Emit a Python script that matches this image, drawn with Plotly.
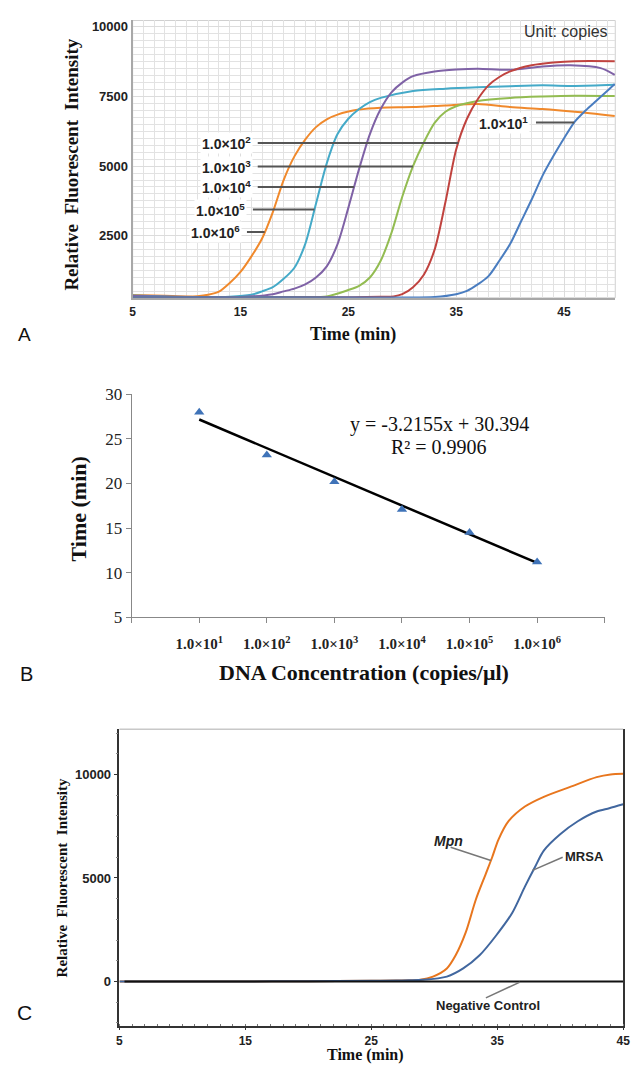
import plotly.graph_objects as go

# ---------------- Panel A data ----------------
a_labels = ["1.0×10<sup>6</sup>", "1.0×10<sup>5</sup>", "1.0×10<sup>4</sup>",
            "1.0×10<sup>3</sup>", "1.0×10<sup>2</sup>", "1.0×10<sup>1</sup>"]
a_colors = ["#F0892C", "#45AAC8", "#7F62A6", "#93BC52", "#C0433F", "#4A7DC0"]

t_e6 = [5, 8, 10, 11, 12, 13, 14, 15, 16, 17, 18, 19, 20, 21, 22, 23, 24, 26, 28, 31, 34, 37, 40, 43, 46, 49.7]
f_e6 = [370, 340, 320, 330, 380, 490, 800, 1200, 1750, 2400, 3350, 4500, 5350, 5950, 6400, 6680, 6850, 7030, 7100, 7120, 7180, 7230, 7120, 7050, 6950, 6800]

t_e5 = [5, 10, 14, 16, 17, 18, 19, 20, 21, 22, 23, 24, 25, 26, 27, 28, 31, 34, 37, 40, 43, 46, 49.7]
f_e5 = [350, 300, 310, 380, 500, 650, 950, 1350, 2200, 3650, 5100, 6150, 6700, 7050, 7300, 7450, 7700, 7780, 7830, 7870, 7900, 7880, 7920]

t_e4 = [5, 15, 18, 19, 20, 21, 22, 23, 24, 25, 26, 27, 28, 29, 30, 31, 33, 35, 37, 40, 43, 45.6, 48.4, 49.7]
f_e4 = [330, 300, 400, 500, 600, 750, 1000, 1400, 2200, 3500, 4900, 6150, 7050, 7650, 8000, 8230, 8400, 8470, 8500, 8460, 8580, 8620, 8520, 8280]

t_e3 = [5, 20, 23, 25, 26, 27, 28, 29, 30, 31, 32, 33, 34, 35, 37, 40, 43, 46, 49.7]
f_e3 = [300, 300, 320, 550, 700, 1000, 1600, 2600, 3900, 5000, 5850, 6550, 6950, 7150, 7340, 7450, 7500, 7530, 7520]

t_e2 = [5, 25, 28, 29.2, 30, 31, 32, 33, 34, 35, 36, 37, 38, 39, 40, 42, 44, 46, 49.7]
f_e2 = [290, 290, 310, 320, 400, 650, 1100, 2000, 3700, 5600, 6700, 7400, 7900, 8200, 8400, 8620, 8720, 8770, 8770]

t_e1 = [5, 30, 33, 35, 36, 37, 38, 39, 40, 41, 42, 43, 44, 45, 46, 47, 48, 49, 49.7]
f_e1 = [290, 280, 300, 400, 520, 750, 1050, 1600, 2200, 3000, 3800, 4650, 5350, 6000, 6600, 7000, 7350, 7700, 7950]

a_times = [t_e6, t_e5, t_e4, t_e3, t_e2, t_e1]
a_fluor = [f_e6, f_e5, f_e4, f_e3, f_e2, f_e1]
a_ticks_x = [5, 15, 25, 35, 45]
a_ticks_y = [2500, 5000, 7500, 10000]

# ---------------- Panel B data ----------------
b_categories = ["1.0×10<sup>1</sup>", "1.0×10<sup>2</sup>", "1.0×10<sup>3</sup>",
                "1.0×10<sup>4</sup>", "1.0×10<sup>5</sup>", "1.0×10<sup>6</sup>"]
b_time = [28.0, 23.2, 20.2, 17.1, 14.5, 11.2]
b_slope = -3.2155
b_intercept = 30.394
b_r2 = 0.9906

# ---------------- Panel C data ----------------
c_mpn_t = [5, 15, 20, 25, 27, 28, 28.9, 29.9, 31.0, 31.7, 32.5, 33.3, 34.1, 34.6, 35.1, 35.9, 37.2, 38.7, 40.8, 42.9, 44.0, 45.0]
c_mpn_f = [0, 5, 15, 35, 50, 60, 80, 237, 630, 1265, 2370, 3950, 5210, 6000, 6850, 7740, 8450, 8920, 9400, 9870, 10000, 10030]
c_mrsa_t = [5, 15, 20, 25, 27, 28, 29.1, 31.0, 32.3, 33.6, 34.9, 36.2, 37.2, 38.0, 38.7, 40.0, 41.4, 42.9, 43.9, 45.0]
c_mrsa_f = [0, 5, 15, 35, 50, 60, 80, 237, 630, 1265, 2210, 3320, 4580, 5530, 6320, 7110, 7740, 8210, 8370, 8560]
c_neg_t = [5.4, 45.0]
c_neg_f = [0, 0]
c_ticks_x = [5, 15, 25, 35, 45]
c_ticks_y = [0, 5000, 10000]

SERIF = "Liberation Serif"
SANS = "Liberation Sans"

fig = go.Figure()

# Panel A curves
for t, f, col in zip(a_times, a_fluor, a_colors):
    fig.add_trace(go.Scatter(x=t, y=f, mode="lines", line=dict(color=col, width=2, shape="spline", smoothing=0.8),
                             xaxis="x", yaxis="y", hoverinfo="skip"))

# Panel B
cat_pos = list(range(1, len(b_categories) + 1))
fig.add_trace(go.Scatter(x=cat_pos, y=[b_slope * p + b_intercept for p in cat_pos], mode="lines",
                         line=dict(color="black", width=2.5), xaxis="x2", yaxis="y2"))
fig.add_trace(go.Scatter(x=cat_pos, y=b_time, mode="markers",
                         marker=dict(symbol="triangle-up", size=9, color="#3F73B8"), xaxis="x2", yaxis="y2"))

# Panel C
fig.add_trace(go.Scatter(x=c_mpn_t, y=c_mpn_f, mode="lines", line=dict(color="#E8761E", width=2, shape="spline", smoothing=0.8),
                         xaxis="x3", yaxis="y3"))
fig.add_trace(go.Scatter(x=c_mrsa_t, y=c_mrsa_f, mode="lines", line=dict(color="#41679F", width=2, shape="spline", smoothing=0.8),
                         xaxis="x3", yaxis="y3"))
fig.add_trace(go.Scatter(x=c_neg_t, y=c_neg_f, mode="lines", line=dict(color="#111111", width=2),
                         xaxis="x3", yaxis="y3"))

H = 1073.0
W = 638.0
def py(v):
    return 1 - v / H
def px(v):
    return v / W

annotations = []
shapes = []

def ann(x, y, text, font, xref="paper", yref="paper", **kw):
    d = dict(x=x, y=y, xref=xref, yref=yref, text=text, showarrow=False, font=font,
             xanchor="center", yanchor="middle")
    d.update(kw)
    annotations.append(d)

# Panel A leader labels (line ends where each curve crosses the label level)
label_y = [2629, 3438, 4246, 4984, 5828, 6566]
label_x = [12.64, 13.19, 13.69, 13.69, 13.69, 39.4]
line_start = [15.6, 16.15, 16.6, 16.6, 16.6, 42.4]
for i, (lab, t, f) in enumerate(zip(a_labels, a_times, a_fluor)):
    yv = label_y[i]
    xe = t[-1]
    for k in range(len(f) - 1):
        if (f[k] - yv) * (f[k + 1] - yv) <= 0 and f[k + 1] != f[k]:
            xe = t[k] + (yv - f[k]) * (t[k + 1] - t[k]) / (f[k + 1] - f[k])
            break
    shapes.append(dict(type="line", xref="x", yref="y", x0=line_start[i], x1=xe, y0=yv, y1=yv,
                       line=dict(color="#555555", width=2)))
    ann(label_x[i], yv, lab, dict(family=SANS, size=14, color="#222", weight="bold"),
        xref="x", yref="y", bgcolor="white", borderpad=1)

ann(px(70), py(158.5), "Relative\u00a0 Fluorescent\u00a0 Intensity",
    dict(family=SERIF, size=19, color="#111", weight="bold"), textangle=-90)
ann(px(356), py(331), "Time (min)", dict(family=SERIF, size=18, color="#111", weight="bold"))
ann(px(572), py(22.7), "Unit: copies", dict(family=SANS, size=16, color="#333"))
ann(px(21.7), py(331.7), "A", dict(family=SANS, size=19, color="#111"))
# Panel B
ann(px(443), py(423.3), f"y = {b_slope}x + {b_intercept}", dict(family=SERIF, size=20, color="#111"))
ann(px(443), py(446), f"R² = {b_r2}", dict(family=SERIF, size=20, color="#111"))
ann(px(76.7), py(509), "Time (min)", dict(family=SERIF, size=22, color="#111", weight="bold"), textangle=-90)
ann(px(366.5), py(675), "DNA Concentration (copies/μl)", dict(family=SERIF, size=22, color="#111", weight="bold"))
ann(px(24), py(677), "B", dict(family=SANS, size=20, color="#111"))
# Panel C
ann(px(60), py(885), "Relative\u00a0 Fluorescent\u00a0 Intensity",
    dict(family=SERIF, size=15, color="#111", weight="bold"), textangle=-90)
ann(px(368.7), py(1065), "Time (min)", dict(family=SERIF, size=16, color="#111", weight="bold"))
ann(px(21.7), py(1021.7), "C", dict(family=SANS, size=21, color="#111"))
ann(31.1, 6790, "<i>Mpn</i>", dict(family=SANS, size=14, color="#222", weight="bold"), xref="x3", yref="y3")
ann(41.9, 6030, "MRSA", dict(family=SANS, size=13, color="#222", weight="bold"), xref="x3", yref="y3")
ann(34.3, -1137, "Negative Control", dict(family=SANS, size=13, color="#222", weight="bold"), xref="x3", yref="y3")

shapes += [
    dict(type="rect", xref="x domain", yref="y domain", x0=0, x1=1, y0=0, y1=1,
         line=dict(color="#d0d0d0", width=1), layer="below"),
    dict(type="line", xref="x3 domain", yref="y3 domain", x0=0, x1=1, y0=1, y1=1,
         line=dict(color="#c8c8c8", width=1.5)),
    dict(type="line", xref="x3", yref="y3", x0=31.3, x1=34.5, y0=6480, y1=5840, line=dict(color="#777", width=1.5)),
    dict(type="line", xref="x3", yref="y3", x0=40.2, x1=37.8, y0=6000, y1=5370, line=dict(color="#777", width=1.5)),
    dict(type="line", xref="x3", yref="y3", x0=34.1, x1=36.8, y0=-790, y1=-30, line=dict(color="#777", width=1.5)),
]

tickA = dict(family=SANS, size=13, color="#222", weight="bold")
tickAx = dict(family=SANS, size=12, color="#222", weight="bold")

fig.update_layout(
    width=638, height=1073, margin=dict(l=0, r=0, t=0, b=0),
    paper_bgcolor="white", plot_bgcolor="white", showlegend=False,
    annotations=annotations, shapes=shapes,
    xaxis=dict(domain=[px(131.7), px(622)], anchor="y", range=[5, 49.75], tickmode="array", tickvals=a_ticks_x,
               tickformat="d", ticks="", showgrid=True, gridcolor="#dcdcdc", gridwidth=1,
               minor=dict(dtick=1, tick0=5, showgrid=True, gridcolor="#e2e2e2", gridwidth=1),
               showline=True, linecolor="#a8a8a8", linewidth=2, zeroline=False, tickfont=tickAx,
               ticklabelstandoff=2),
    yaxis=dict(domain=[py(294), py(11.7)], anchor="x", range=[270, 10230], tickmode="array", tickvals=a_ticks_y,
               tickformat="d", ticks="", showgrid=True, gridcolor="#dcdcdc", gridwidth=1,
               minor=dict(dtick=250, tick0=0, showgrid=True, gridcolor="#e2e2e2", gridwidth=1),
               showline=True, linecolor="#a8a8a8", linewidth=2, zeroline=False, tickfont=tickA),
    xaxis2=dict(domain=[px(130.7), px(611.3)], anchor="y2", range=[0, 7], tickmode="array",
                tickvals=cat_pos, ticktext=b_categories,
                ticks="outside", ticklen=5, tickcolor="#888",
                minor=dict(dtick=1, tick0=0, ticks="outside", ticklen=5, tickcolor="#888"),
                showline=True, linecolor="#888", linewidth=1.2,
                showgrid=False, zeroline=False,
                tickfont=dict(family=SERIF, size=15, color="#222", weight="bold"), ticklabelstandoff=8),
    yaxis2=dict(domain=[py(619.3), py(392.3)], anchor="x2", range=[5, 30], tickmode="array",
                tickvals=[5, 10, 15, 20, 25, 30], ticks="outside", ticklen=5, tickcolor="#888",
                showline=True, linecolor="#888", linewidth=1.2, showgrid=False, zeroline=False,
                tickfont=dict(family=SERIF, size=17, color="#222")),
    xaxis3=dict(domain=[px(118.3), px(630)], anchor="y3", range=[5, 45], tickmode="array", tickvals=c_ticks_x,
                tickformat="d", ticks="outside", ticklen=3, tickcolor="#333",
                minor=dict(dtick=1, tick0=5, ticks="inside", ticklen=2, tickcolor="#777"),
                showline=True, linecolor="#333", linewidth=1.5, showgrid=False, zeroline=False,
                tickfont=tickAx, ticklabelstandoff=0),
    yaxis3=dict(domain=[py(1035), py(733.3)], anchor="x3", range=[-2133, 12180], tickmode="array",
                tickvals=c_ticks_y, tickformat="d", ticks="outside", ticklen=4, tickcolor="#333",
                minor=dict(dtick=1000, tick0=0, ticks="outside", ticklen=2, tickcolor="#888"),
                showline=True, linecolor="#333", linewidth=1.5, mirror=True, showgrid=False, zeroline=False,
                tickfont=tickA),
)

fig.write_html("out.html", config={"displayModeBar": False},
               post_script="document.body.style.margin='0';")
